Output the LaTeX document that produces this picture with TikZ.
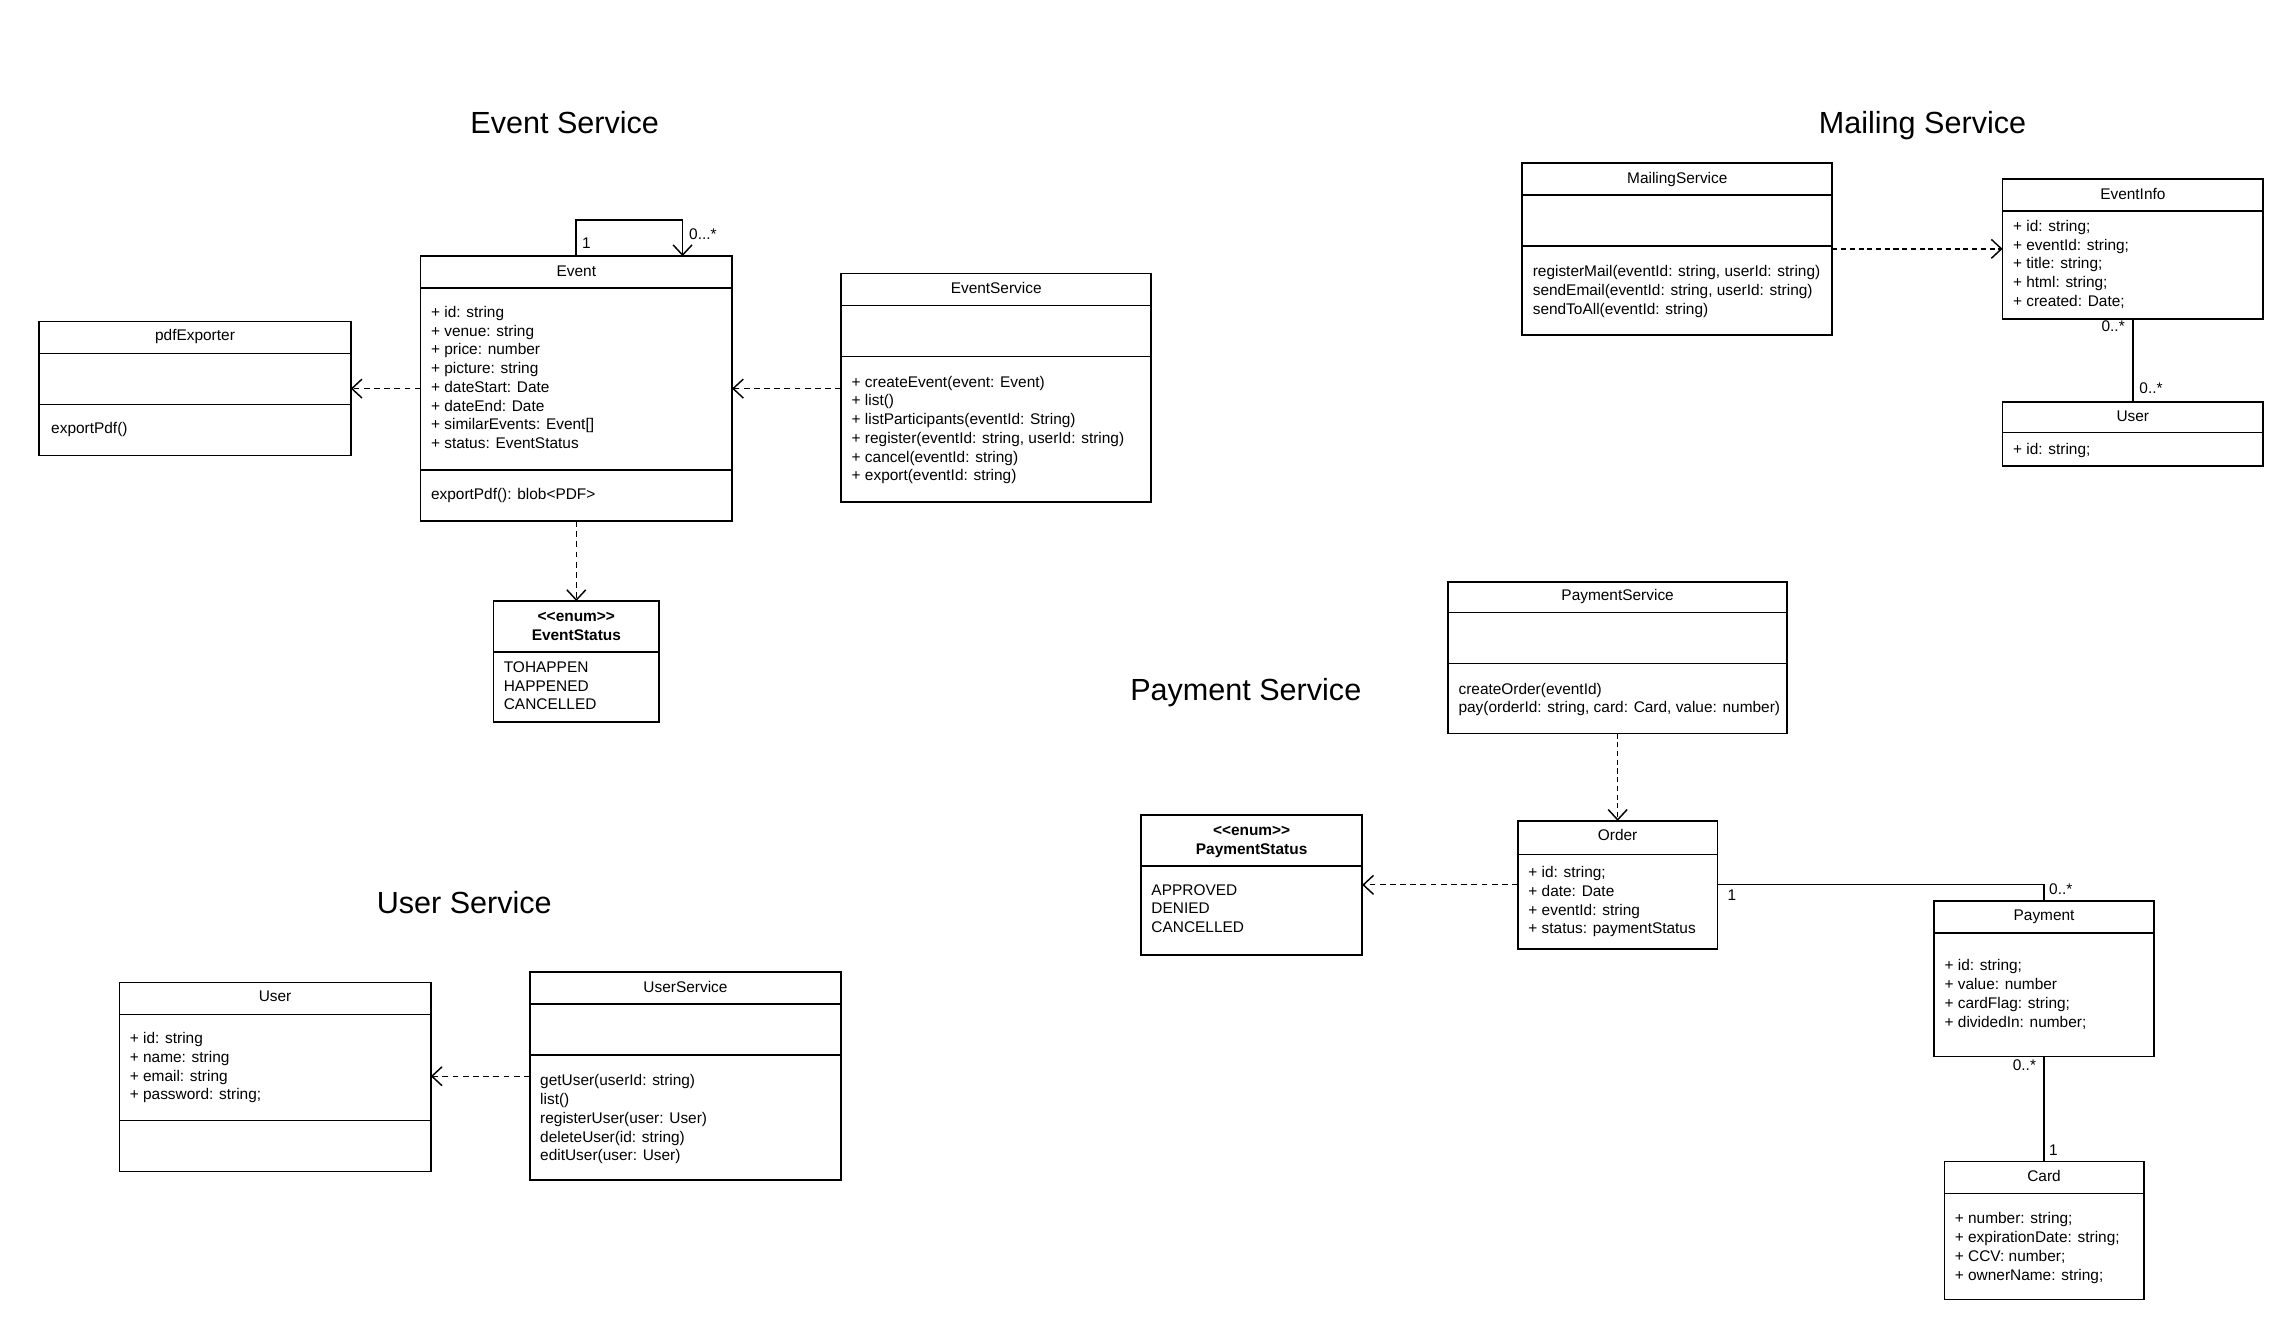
\documentclass[tikz,border=0pt]{standalone}
\usepackage{fontspec}
\setmainfont{Liberation Sans}
\usetikzlibrary{arrows.meta}
\newcommand\fstrut{\rule{0pt}{9pt}}
\newcommand\compline[2]{\draw[sepline] (#1.west |- 0,#2) -- (#1.east |- 0,#2);}
\newcommand\enumtag{\mbox{<}\mbox{<}enum\mbox{>}\mbox{>}}
\begin{document}
\begin{tikzpicture}[x=1pt,y=-1pt,
  box/.style={draw=black, line width=1.15pt, rectangle, inner sep=0pt, outer sep=0pt, anchor=north west, fill=white},
  sepline/.style={line width=1pt},
  txt/.style={font=\fontsize{10.6}{12.9}\selectfont, inner sep=0pt, align=left, anchor=north west},
  ttl/.style={font=\fontsize{10.6}{12.9}\selectfont, inner sep=0pt, anchor=base},
  bttl/.style={font=\bfseries\fontsize{10.6}{12.9}\selectfont, inner sep=0pt, anchor=base},
  mult/.style={font=\fontsize{10.6}{12.9}\selectfont, inner sep=0pt, anchor=center},
  head/.style={font=\fontsize{21}{25}\selectfont, inner sep=0pt, anchor=base},
  barb/.style={-{Straight Barb[length=7pt,width=13pt,line width=1pt]}},
  dep/.style={barb, dash pattern=on 4pt off 3pt, line width=0.8pt},
  depthick/.style={barb, dash pattern=on 3.5pt off 2.5pt, line width=1.1pt},
  assoc/.style={line width=1.2pt},
  assocthin/.style={line width=0.8pt}]
\useasboundingbox[fill=white] (0,0) rectangle (1568,917);

% headings
\node[head] (hEvent) at (388,91.5) {Event Service};
\node[head] (hMail) at (1321,91.5) {Mailing Service};
\node[head] (hPay) at (856,481.5) {Payment Service};
\node[head] (hUser) at (319,627.5) {User Service};

% ---------- Event Service ----------
\node[box, minimum width=214pt, minimum height=92pt] (pdf) at (27,221) {};
\compline{pdf}{243}\compline{pdf}{278}
\node[ttl] (pdfT) at (134,233.8) {pdfExporter};
\node[txt] (pdfM) at (35,288.8) {\fstrut exportPdf()};

\node[box, minimum width=214pt, minimum height=182pt] (event) at (289,176) {};
\compline{event}{198}\compline{event}{323}
\node[ttl] (eventT) at (396,189.8) {Event};
\node[txt] (eventA) at (296,208.8) {\fstrut + id: string\\+ venue: string\\+ price: number\\+ picture: string\\+ dateStart: Date\\+ dateEnd: Date\\+ similarEvents: Event[]\\+ status: EventStatus};
\node[txt] (eventM) at (296,333.8) {\fstrut exportPdf(): blob\mbox{<}PDF\mbox{>}};

\node[box, minimum width=213pt, minimum height=157pt] (evsvc) at (578,188) {};
\compline{evsvc}{210}\compline{evsvc}{245}
\node[ttl] (evsvcT) at (684.5,201.8) {EventService};
\node[txt] (evsvcM) at (585,256.8) {\fstrut + createEvent(event: Event)\\+ list()\\+ listParticipants(eventId: String)\\+ register(eventId: string, userId: string)\\+ cancel(eventId: string)\\+ export(eventId: string)};

\node[box, minimum width=114pt, minimum height=83pt] (estat) at (339,413) {};
\compline{estat}{448}
\node[bttl] (estatS) at (396,426.8) {\enumtag};
\node[bttl] (estatT) at (396,439.8) {EventStatus};
\node[txt] (estatA) at (346,452.8) {\fstrut TOHAPPEN\\HAPPENED\\CANCELLED};

\draw[dep] (evsvc.west |- event.east) -- (event.east);
\draw[dep] (event.west) -- (pdf.east);
\draw[dep] (event.south) -- (estat.north);
\draw[assoc, barb] (event.north) -- ++(0,-25) coordinate (loopA) -| ([xshift=73pt]event.north);
\node[mult] (m1) at (403,167) {1};
\node[mult] (m2) at (483,161) {0...*};

% ---------- Mailing Service ----------
\node[box, minimum width=213pt, minimum height=118pt] (mail) at (1046,112) {};
\compline{mail}{134}\compline{mail}{169}
\node[ttl] (mailT) at (1152.5,125.8) {MailingService};
\node[txt] (mailM) at (1053,180.8) {\fstrut registerMail(eventId: string, userId: string)\\sendEmail(eventId: string, userId: string)\\sendToAll(eventId: string)};

\node[box, minimum width=179pt, minimum height=96pt] (einfo) at (1376,123) {};
\compline{einfo}{145}
\node[ttl] (einfoT) at (1465.5,136.8) {EventInfo};
\node[txt] (einfoA) at (1383,149.8) {\fstrut + id: string;\\+ eventId: string;\\+ title: string;\\+ html: string;\\+ created: Date;};

\node[box, minimum width=179pt, minimum height=44pt] (muser) at (1376,276) {};
\compline{muser}{297}
\node[ttl] (muserT) at (1465.5,289.8) {User};
\node[txt] (muserA) at (1383,302.8) {\fstrut + id: string;};

\draw[depthick] (mail.east |- einfo.west) -- (einfo.west);
\draw[assoc] (einfo.south) -- (muser.north);
\node[mult] (m3) at (1452,224) {0..*};
\node[mult] (m4) at (1478,267) {0..*};

% ---------- Payment Service ----------
\node[box, minimum width=233pt, minimum height=104pt] (paysvc) at (995,400) {};
\compline{paysvc}{421}\compline{paysvc}{456}
\node[ttl] (paysvcT) at (1111.5,412.8) {PaymentService};
\node[txt] (paysvcM) at (1002,467.8) {\fstrut createOrder(eventId)\\pay(orderId: string, card: Card, value: number)};

\node[box, minimum width=137pt, minimum height=88pt] (order) at (1043,564) {};
\compline{order}{587}
\node[ttl] (orderT) at (1111.5,577.8) {Order};
\node[txt] (orderA) at (1050,593.8) {\fstrut + id: string;\\+ date: Date\\+ eventId: string\\+ status: paymentStatus};

\node[box, minimum width=152pt, minimum height=96pt] (pstat) at (784,560) {};
\compline{pstat}{595}
\node[bttl] (pstatS) at (860,573.8) {\enumtag};
\node[bttl] (pstatT) at (860,586.8) {PaymentStatus};
\node[txt] (pstatA) at (791,605.8) {\fstrut APPROVED\\DENIED\\CANCELLED};

\node[box, minimum width=151pt, minimum height=107pt] (payment) at (1329,619) {};
\compline{payment}{641}
\node[ttl] (paymentT) at (1404.5,632.8) {Payment};
\node[txt] (paymentA) at (1336,657.8) {\fstrut + id: string;\\+ value: number\\+ cardFlag: string;\\+ dividedIn: number;};

\node[box, minimum width=137pt, minimum height=95pt] (card) at (1336,798) {};
\compline{card}{820}
\node[ttl] (cardT) at (1404.5,811.8) {Card};
\node[txt] (cardA) at (1343,831.8) {\fstrut + number: string;\\+ expirationDate: string;\\+ CCV: number;\\+ ownerName: string;};

\draw[depthick] (paysvc.south) -- (order.north);
\draw[dep] (order.west) -- (order.west -| pstat.east);
\draw[assocthin] (order.east) -| (payment.north);
\draw[assoc] (payment.south) -- (card.north);
\node[mult] (m5) at (1190,615) {1};
\node[mult] (m6) at (1416,611) {0..*};
\node[mult] (m7) at (1391,732) {0..*};
\node[mult] (m8) at (1411,790) {1};

% ---------- User Service ----------
\node[box, minimum width=214pt, minimum height=130pt] (user) at (82,675) {};
\compline{user}{697}\compline{user}{770}
\node[ttl] (userT) at (189,687.8) {User};
\node[txt] (userA) at (89,707.8) {\fstrut + id: string\\+ name: string\\+ email: string\\+ password: string;};

\node[box, minimum width=214pt, minimum height=143pt] (usvc) at (364,668) {};
\compline{usvc}{690}\compline{usvc}{725}
\node[ttl] (usvcT) at (471,681.8) {UserService};
\node[txt] (usvcM) at (371,736.8) {\fstrut getUser(userId: string)\\list()\\registerUser(user: User)\\deleteUser(id: string)\\editUser(user: User)};

\draw[dep] (usvc.west) -- (usvc.west -| user.east);
\end{tikzpicture}
\end{document}
